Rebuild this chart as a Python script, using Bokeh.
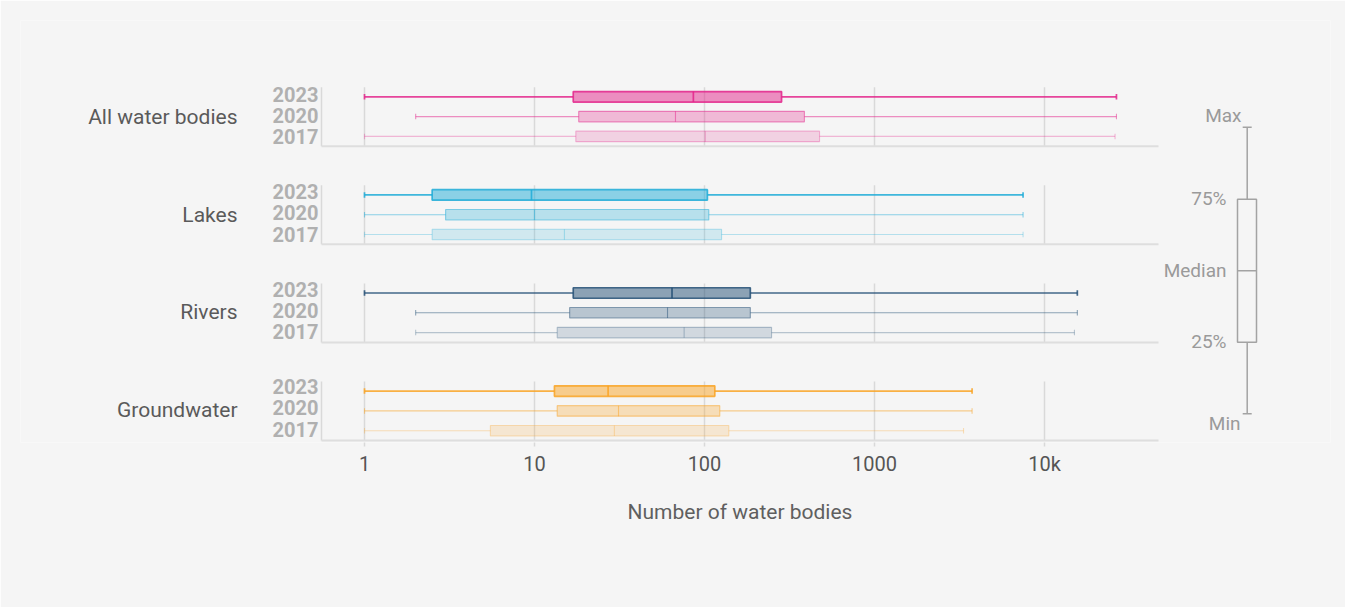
from bokeh.plotting import figure
from bokeh.models import Range1d, LinearScale, FixedTicker, ColumnDataSource, CustomJSTickFormatter, Title
from bokeh.embed import file_html
from bokeh.resources import INLINE
from bokeh.core.properties import value

# ---------------- data ----------------
groups = ["All water bodies", "Lakes", "Rivers", "Groundwater"]
years = ["2023", "2020", "2017"]

all_min = [1, 2, 1]
all_q1 = [16.9, 18.2, 17.5]
all_med = [86, 67.5, 101]
all_q3 = [284, 387, 475]
all_max = [26500, 26500, 26000]

lakes_min = [1, 1, 1]
lakes_q1 = [2.5, 3.0, 2.5]
lakes_med = [9.6, 10, 15]
lakes_q3 = [104, 106, 126]
lakes_max = [7480, 7480, 7480]

rivers_min = [1, 2, 2]
rivers_q1 = [16.9, 16.1, 13.6]
rivers_med = [64.4, 60.6, 75.9]
rivers_q3 = [186, 186, 248]
rivers_max = [15600, 15600, 15000]

ground_min = [1, 1, 1]
ground_q1 = [13.1, 13.6, 5.5]
ground_med = [27.1, 31.2, 29.5]
ground_q3 = [115, 123, 139]
ground_max = [3750, 3750, 3340]

tick_values = [1, 10, 100, 1000, 10000]
tick_labels = ["1", "10", "100", "1000", "10k"]
legend_labels = ["Max", "75%", "Median", "25%", "Min"]
x_title = "Number of water bodies"

stats = {
    "All water bodies": (all_min, all_q1, all_med, all_q3, all_max),
    "Lakes": (lakes_min, lakes_q1, lakes_med, lakes_q3, lakes_max),
    "Rivers": (rivers_min, rivers_q1, rivers_med, rivers_q3, rivers_max),
    "Groundwater": (ground_min, ground_q1, ground_med, ground_q3, ground_max),
}

# ---------------- style / layout ----------------
base_colors = {"All water bodies": "#e3258b", "Lakes": "#1fabd7",
               "Rivers": "#234f75", "Groundwater": "#f9a323"}
fill_alphas = [0.5, 0.29, 0.17]
line_alphas = [0.85, 0.5, 0.3]
line_widths = [1.7, 1.1, 1.1]
FONT = value("Roboto")

W, H = 1345, 607
FL, FR, FT, FB = 20, 1330, 20, 442          # frame edges in page pixels
X1_PX, PX_PER_DEC = 364, 170                # where value 1 sits, px per decade
ROW0, GROUP_GAP, ROW_GAP = 96.3, 98.1, 19.8
LABEL_GAP = 97.5
BOX_H, CAP_H = 10.5, 5.5
AX_LEFT, AX_RIGHT = 321, 1158
TITLE_LEFT = 627
GRID_COLOR = "#d9d9d9"

p = figure(width=W, height=H, x_axis_type="log",
           x_range=Range1d(10 ** ((FL - X1_PX) / PX_PER_DEC), 10 ** ((FR - X1_PX) / PX_PER_DEC)),
           y_range=Range1d(FB, FT),
           output_backend="svg", toolbar_location=None, y_axis_location=None,
           min_border_left=FL, min_border_right=W - FR,
           min_border_top=FT, min_border_bottom=H - FB)
p.extra_x_ranges = {"px": Range1d(FL, FR)}
p.extra_x_scales = {"px": LinearScale()}
p.background_fill_color = "#f5f5f5"
p.border_fill_color = "#f5f5f5"
p.outline_line_color = None
p.xgrid.visible = False
p.ygrid.visible = False

# axis
ax = p.xaxis[0]
ax.ticker = FixedTicker(ticks=tick_values, minor_ticks=[])
ax.formatter = CustomJSTickFormatter(args=dict(vals=tick_values, labs=tick_labels),
                                     code="const i = vals.indexOf(tick); return i >= 0 ? labs[i] : '';")
ax.axis_line_color = None
ax.major_tick_line_color = GRID_COLOR
ax.major_tick_line_width = 1.5
ax.major_tick_out = 4
ax.major_tick_in = 0
ax.minor_tick_line_color = None
ax.major_label_text_font = "Roboto"
ax.major_label_text_font_size = "20px"
ax.major_label_text_color = "#555555"
ax.major_label_standoff = 5

# axis title, under the plotting band
p.add_layout(Title(text=x_title, align="left", offset=TITLE_LEFT - FL,
                   standoff=39, text_font="Roboto", text_font_size="21px",
                   text_font_style="normal", text_color="#5f5f5f"), "below")

# ---------------- group frames ----------------
gx0, gx1, gy0, gy1 = [], [], [], []
bl_y, top_y = [], []
for g, name in enumerate(groups):
    r0 = ROW0 + g * GROUP_GAP
    top = r0 - 9.6
    base = r0 + 49.4
    top_y.append(top)
    bl_y.append(base)
    for t in tick_values:
        gx0.append(t); gx1.append(t); gy0.append(top); gy1.append(base)

p.segment(x0=gx0, y0=gy0, x1=gx1, y1=gy1, line_color=GRID_COLOR, line_width=1.5)
p.segment(x0=[AX_LEFT] * len(groups), y0=top_y, x1=[AX_LEFT] * len(groups), y1=bl_y,
          line_color=GRID_COLOR, line_width=1.5, x_range_name="px")
p.segment(x0=[AX_LEFT] * len(groups), y0=bl_y, x1=[AX_RIGHT] * len(groups), y1=bl_y,
          line_color="#dedede", line_width=2, x_range_name="px")

# ---------------- boxes ----------------
cols = {k: [] for k in ["y", "lo", "q1", "med", "q3", "hi", "c", "fa", "la", "lw",
                        "yt", "yb", "ct", "cb"]}
for g, name in enumerate(groups):
    mn, q1, md, q3, mx = stats[name]
    for i in range(len(years)):
        y = ROW0 + g * GROUP_GAP + i * ROW_GAP
        cols["y"].append(y)
        cols["lo"].append(mn[i]); cols["q1"].append(q1[i]); cols["med"].append(md[i])
        cols["q3"].append(q3[i]); cols["hi"].append(mx[i])
        cols["c"].append(base_colors[name])
        cols["fa"].append(fill_alphas[i]); cols["la"].append(line_alphas[i])
        cols["lw"].append(line_widths[i])
        cols["yt"].append(y - BOX_H / 2); cols["yb"].append(y + BOX_H / 2)
        cols["ct"].append(y - CAP_H / 2); cols["cb"].append(y + CAP_H / 2)
src = ColumnDataSource(cols)

p.segment(x0="lo", y0="y", x1="q1", y1="y", line_color="c", line_alpha="la", line_width="lw", source=src)
p.segment(x0="q3", y0="y", x1="hi", y1="y", line_color="c", line_alpha="la", line_width="lw", source=src)
p.segment(x0="lo", y0="ct", x1="lo", y1="cb", line_color="c", line_alpha="la", line_width="lw", source=src)
p.segment(x0="hi", y0="ct", x1="hi", y1="cb", line_color="c", line_alpha="la", line_width="lw", source=src)
p.hbar(y="y", left="q1", right="q3", height=BOX_H, fill_color="c", fill_alpha="fa",
       line_color="c", line_alpha="la", line_width="lw", source=src)
p.segment(x0="med", y0="yt", x1="med", y1="yb", line_color="c", line_alpha="la", line_width="lw", source=src)

# ---------------- labels ----------------
yl_x, yl_y, yl_t = [], [], []
for g in range(len(groups)):
    r0 = ROW0 + g * LABEL_GAP
    for i, yr in enumerate(years):
        yl_x.append(318); yl_y.append(r0 - 2.6 + 21.2 * i); yl_t.append(yr)
p.text(x=yl_x, y=yl_y, text=yl_t, x_range_name="px", text_font=FONT, text_font_size="20px",
       text_font_style="bold", text_color="#b0b0b0", text_align="right", text_baseline="middle")
p.text(x=[237] * len(groups), y=[ROW0 + g * LABEL_GAP + 20.4 for g in range(len(groups))],
       text=groups, x_range_name="px", text_font=FONT, text_font_size="21px",
       text_color="#5a5a5a", text_align="right", text_baseline="middle")

# ---------------- legend schematic ----------------
LC = "#a3a3a3"
lx, cap_w = 1246.7, 4.5
l_top, l_q3, l_med, l_q1, l_bot = 126.7, 198.7, 270.3, 341.7, 413.3
p.segment(x0=[lx, lx], y0=[l_top, l_q1], x1=[lx, lx], y1=[l_q3, l_bot],
          line_color=LC, line_width=1.5, x_range_name="px")
p.segment(x0=[lx - cap_w, lx - cap_w], y0=[l_top, l_bot], x1=[lx + cap_w, lx + cap_w], y1=[l_top, l_bot],
          line_color=LC, line_width=1.5, x_range_name="px")
p.quad(left=[1237], right=[1256], top=[l_q3], bottom=[l_q1], fill_color=None,
       line_color=LC, line_width=1.5, x_range_name="px")
p.segment(x0=[1237], y0=[l_med], x1=[1256], y1=[l_med], line_color=LC, line_width=1.5, x_range_name="px")
p.text(x=[1241, 1226, 1226, 1226, 1240], y=[115, 198, 270, 341, 423], text=legend_labels,
       x_range_name="px", text_font=FONT, text_font_size="19px", text_color="#9a9a9a",
       text_align="right", text_baseline="middle")

open("out.html", "w").write(file_html(p, INLINE))
